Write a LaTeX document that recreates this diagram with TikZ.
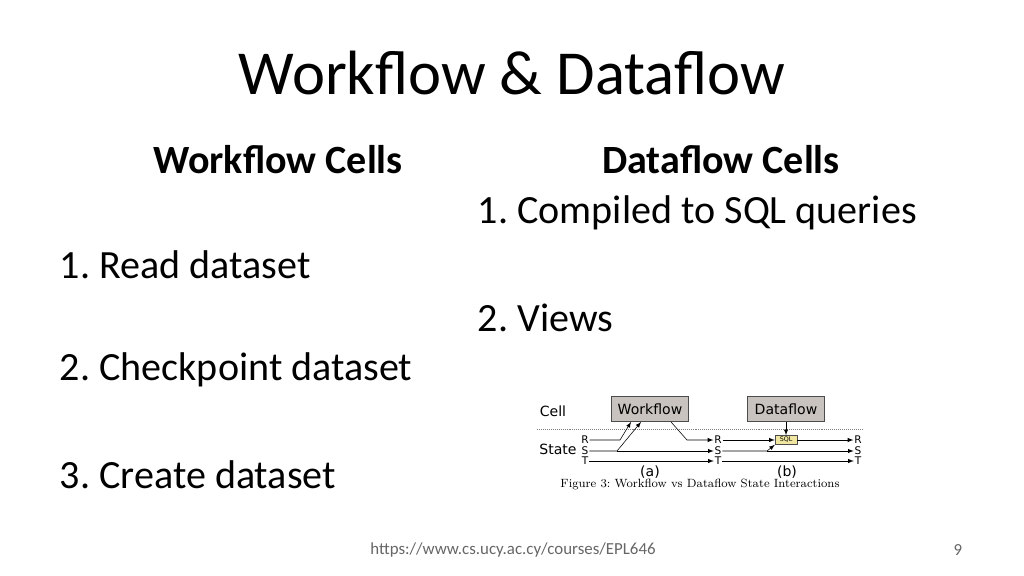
\documentclass[tikz,border=0pt]{standalone}
\usepackage{fontspec}
\setmainfont{Carlito}
\newfontfamily\figfont{DejaVu Sans}
\newfontfamily\capfont{Latin Modern Roman}
\frenchspacing
\usetikzlibrary{calc}
\definecolor{cBox}{RGB}{200, 195, 190}
\definecolor{cSql}{RGB}{240, 230, 160}
\colorlet{cUrl}{black!60!white}
\tikzset{
    bodyText/.style={
        anchor=west,
        font=\fontsize{28.5}{32}\selectfont
    },
    headText/.style={
        font=\fontsize{28.5}{32}\selectfont\bfseries
    },
    cellBox/.style={
        draw=black!70,
        fill=cBox,
        minimum width=55pt,
        minimum height=18pt,
        inner sep=1pt,
        font=\figfont\fontsize{10}{11}\selectfont
    },
    sqlBox/.style={
        draw=black!70,
        fill=cSql,
        minimum width=15.5pt,
        minimum height=6.4pt,
        inner sep=0,
        font=\figfont\fontsize{4.5}{5}\selectfont
    },
    stateLbl/.style={
        font=\figfont\fontsize{7.5}{8}\selectfont,
        inner sep=0.5
    },
    figLbl/.style={
        font=\figfont\fontsize{10}{11}\selectfont
    },
    myedge/.style={
        arrows=-latex,
        thin
    },
    separatingline/.style={
        gray,
        densely dotted
    },
}
\begin{document}
\begin{tikzpicture}[x=0.025cm,y=-0.025cm]
    \useasboundingbox (0,0) rectangle (1024,576);

    % slide text
    \node[font=\fontsize{44.5}{50}\selectfont] (title) at (512,73) {Workflow \& Dataflow};
    \node[headText] (hWork) at (278,160) {Workflow Cells};
    \node[headText] (hData) at (721,160) {Dataflow Cells};

    \node[bodyText] (w1) at (55,265) {1. Read dataset};
    \node[bodyText] (w2) at (55,370) {2. Checkpoint dataset};
    \node[bodyText] (w3) at (55,475) {3. Create dataset};
    \node[bodyText] (d1) at (473,213) {1. Compiled to SQL queries};
    \node[bodyText] (d2) at (473,318) {2. Views};

    \node[font=\fontsize{12}{14}\selectfont,text=cUrl] (url) at (513,550) {https://www.cs.ucy.ac.cy/courses/EPL646};
    \node[font=\fontsize{12}{14}\selectfont,text=cUrl] (page) at (958,550) {9};

    % figure
    \node[figLbl] (cell) at (553,411) {Cell};
    \node[figLbl] (state) at (558,449) {State};
    \node[cellBox] (wf) at (650,409) {Workflow};
    \node[cellBox] (df) at (786,409) {Dataflow};
    \draw[separatingline] (537,429) -- (862,429);

    \foreach \r/\y in {R/440,S/451,T/461}
    {
        \node[stateLbl] (a\r) at (585,\y) {\r};
        \node[stateLbl] (b\r) at (718,\y) {\r};
        \node[stateLbl] (c\r) at (858,\y) {\r};
    }
    \node[sqlBox] (sql) at (786,440) {SQL};

    \coordinate (kR) at (620,440);
    \coordinate (kS) at (617,451);
    \coordinate (kO) at (687,440);
    \coordinate (kD) at (767,451);

    \draw[myedge] (aR.east) -- (kR) -- ($(wf.south west)+(20,0)$);
    \draw[myedge] (aS.east) -- (kS) -- ($(wf.south west)+(30,0)$);
    \draw[myedge] ($(wf.south east)-(18,0)$) -- (kO) -- (bR.west);
    \draw[myedge] (kS) -- (bS.west);
    \draw[myedge] (aT.east) -- (bT.west);

    \draw[myedge] (df.south) -- (sql.north);
    \draw[myedge] (bR.east) -- (sql.west);
    \draw[myedge] (sql.east) -- (cR.west);
    \draw[myedge] (bS.east) -- (kD) -- (sql.south west);
    \draw[myedge] (kD) -- (cS.west);
    \draw[myedge] (bT.east) -- (cT.west);

    \node[figLbl] (capA) at (650,472) {(a)};
    \node[figLbl] (capB) at (787,472) {(b)};
    \node[font=\capfont\fontsize{8.5}{9}\selectfont] (cap) at (700,485) {Figure 3: Workflow vs Dataflow State Interactions};
\end{tikzpicture}
\end{document}
